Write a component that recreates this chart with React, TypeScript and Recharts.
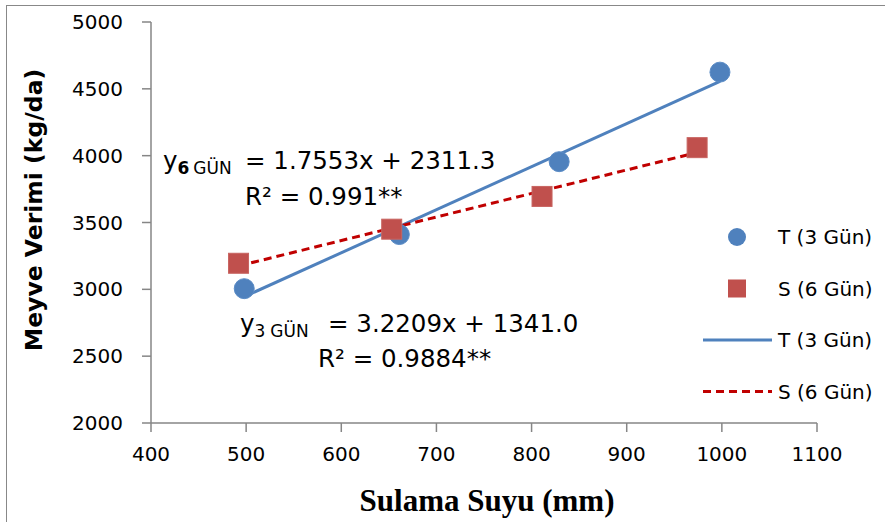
import React from 'react';
import { ComposedChart, Scatter, Line, XAxis, YAxis } from 'recharts';

// measured points
const tPoints = [
    { x: 498, y: 3005 },
    { x: 661, y: 3410 },
    { x: 829, y: 3955 },
    { x: 998, y: 4625 },
];
const sPoints = [
    { x: 492, y: 3195 },
    { x: 653, y: 3450 },
    { x: 811, y: 3695 },
    { x: 974, y: 4060 },
];

// trend line ends
const tTrend = [
    { x: 498, y: 2945 },
    { x: 998, y: 4555 },
];
const sTrend = [
    { x: 492, y: 3175 },
    { x: 972, y: 4020 },
];

const xTicks = [400, 500, 600, 700, 800, 900, 1000, 1100];
const yTicks = [2000, 2500, 3000, 3500, 4000, 4500, 5000];

const legendItems = [
    { name: 'T (3 Gün)', kind: 'circle', color: '#4F81BD' },
    { name: 'S (6 Gün)', kind: 'square', color: '#C0504D' },
    { name: 'T (3 Gün)', kind: 'line', color: '#4F81BD' },
    { name: 'S (6 Gün)', kind: 'dash', color: '#C00000' },
];

const W = 885;
const H = 522;
const sans = "'DejaVu Sans', sans-serif";
const tickFont = { fontFamily: sans, fontSize: 20, fill: '#000' };
const axisGray = '#868686';

const Circle = (props: any) => {
    const { cx, cy } = props;
    return <circle cx={cx} cy={cy} r={10} fill="#4F81BD" stroke="#5B8CC6" strokeWidth={1} />;
};

const Square = (props: any) => {
    const { cx, cy } = props;
    return <rect x={cx - 10} y={cy - 10} width={20} height={20} fill="#C0504D" stroke="#C86460" strokeWidth={1} />;
};

const Overlay: React.FC = () => {
    return (
        <svg width={W} height={H} style={{ position: 'absolute', left: 0, top: 0, pointerEvents: 'none' }}>
            {/* equations */}
            <text x={163} y={169} fontFamily={sans} fontSize={24.5} fill="#000">
                y
                <tspan fontSize={17} fontWeight="bold" dy={5}>6</tspan>
                <tspan fontSize={17} dx={4}>GÜN</tspan>
                <tspan fontSize={24.5} dy={-5} x={245}>= 1.7553x + 2311.3</tspan>
            </text>
            <text x={245} y={205} fontFamily={sans} fontSize={24.5} fill="#000">R² = 0.991**</text>
            <text x={240} y={332} fontFamily={sans} fontSize={24.5} fill="#000">
                y
                <tspan fontSize={17} dy={5}>3</tspan>
                <tspan fontSize={17} dx={5}>GÜN</tspan>
                <tspan fontSize={24.5} dy={-5} x={328}>= 3.2209x + 1341.0</tspan>
            </text>
            <text x={318} y={367} fontFamily={sans} fontSize={24.5} fill="#000">R² = 0.9884**</text>

            {/* legend */}
            {legendItems.map((item, i) => {
                const cy = 237 + i * 51.5;
                let marker = null;
                if (item.kind === 'circle') marker = <circle cx={737} cy={cy} r={9} fill={item.color} />;
                if (item.kind === 'square') marker = <rect x={728} y={cy - 9} width={18} height={18} fill={item.color} />;
                if (item.kind === 'line') marker = <line x1={703} x2={772} y1={cy} y2={cy} stroke={item.color} strokeWidth={3} />;
                if (item.kind === 'dash') marker = <line x1={703} x2={772} y1={cy} y2={cy} stroke={item.color} strokeWidth={3} strokeDasharray="8 5" />;
                return (
                    <g key={i}>
                        {marker}
                        <text x={778} y={cy + 7} fontFamily={sans} fontSize={20} fill="#000">{item.name}</text>
                    </g>
                );
            })}

            {/* axis titles */}
            <text
                x={0}
                y={0}
                transform="translate(42,210) rotate(-90)"
                textAnchor="middle"
                fontFamily={sans}
                fontWeight="bold"
                fontSize={23.5}
                fill="#000"
            >
                Meyve Verimi (kg/da)
            </text>
            <text
                x={487}
                y={511}
                textAnchor="middle"
                fontFamily="'Liberation Serif', serif"
                fontWeight="bold"
                fontSize={31}
                fill="#000"
            >
                Sulama Suyu (mm)
            </text>
        </svg>
    );
};

const App: React.FC = () => {
    return (
        <div style={{ position: 'absolute', left: 0, top: 0, width: W, height: H, background: '#fff' }}>
            <div style={{ position: 'absolute', left: 6, top: 5, width: W, height: H, borderLeft: '1.5px solid #888', borderTop: '1.5px solid #888' }} />
            <div style={{ position: 'absolute', left: 0, top: 0 }}>
                <ComposedChart
                    width={W}
                    height={H}
                    margin={{ top: 22, right: 68, bottom: 49, left: 71 }}
                >
                    <XAxis
                        type="number"
                        dataKey="x"
                        domain={[400, 1100]}
                        ticks={xTicks}
                        interval={0}
                        allowDataOverflow
                        stroke={axisGray}
                        strokeWidth={1.5}
                        tickSize={9}
                        tick={tickFont}
                        tickMargin={15}
                        height={50}
                    />
                    <YAxis
                        type="number"
                        dataKey="y"
                        domain={[2000, 5000]}
                        ticks={yTicks}
                        interval={0}
                        allowDataOverflow
                        stroke={axisGray}
                        strokeWidth={1.5}
                        tickSize={9}
                        tick={tickFont}
                        tickMargin={19}
                        width={80}
                    />
                    <Line
                        data={tTrend}
                        dataKey="y"
                        type="linear"
                        stroke="#4F81BD"
                        strokeWidth={3}
                        dot={false}
                        activeDot={false}
                        isAnimationActive={false}
                    />
                    <Line
                        data={sTrend}
                        dataKey="y"
                        type="linear"
                        stroke="#C00000"
                        strokeWidth={3}
                        strokeDasharray="8 5"
                        dot={false}
                        activeDot={false}
                        isAnimationActive={false}
                    />
                    <Scatter data={tPoints} name="T (3 Gün)" shape={<Circle />} isAnimationActive={false} />
                    <Scatter data={sPoints} name="S (6 Gün)" shape={<Square />} isAnimationActive={false} />
                </ComposedChart>
            </div>
            <Overlay />
        </div>
    );
};

export default App;
